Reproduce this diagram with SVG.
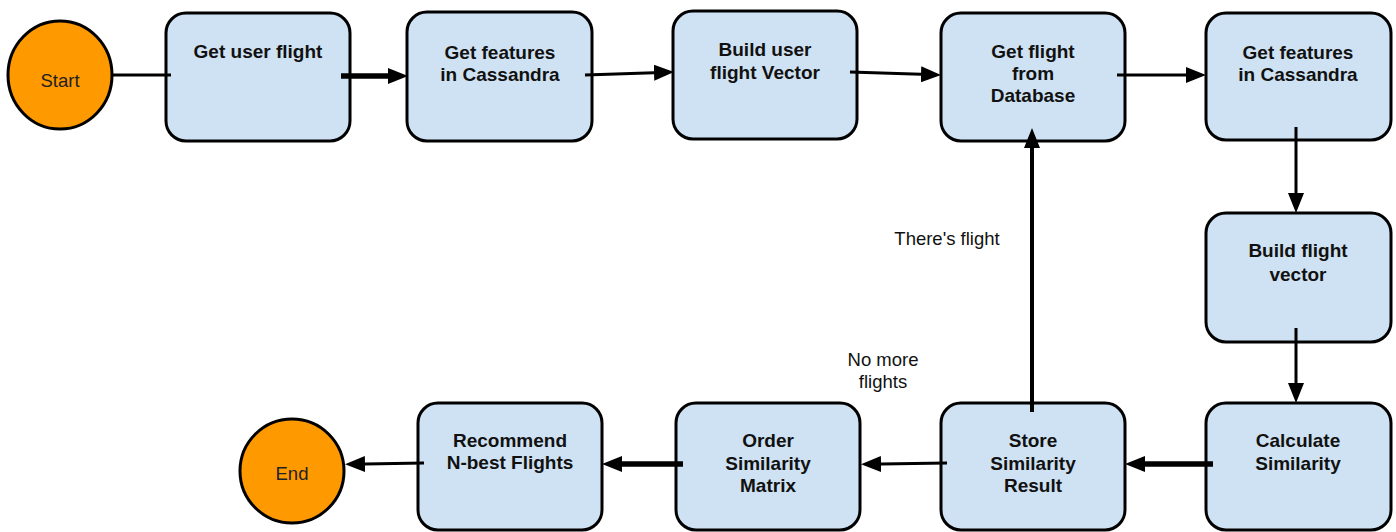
<svg xmlns="http://www.w3.org/2000/svg" width="1396" height="532" viewBox="0 0 1396 532">
  <defs>
    <marker id="arrow" markerUnits="userSpaceOnUse" markerWidth="20" markerHeight="16" refX="0" refY="8" orient="auto">
      <path d="M0,0 L20,8 L0,16 z" fill="#000"/>
    </marker>
    <style>
      .box { fill: #cfe2f3; stroke: #000; stroke-width: 3; }
      .term { fill: #ff9900; stroke: #000; stroke-width: 3; }
      .lbl { font-family: "Liberation Sans", Arial, sans-serif; font-size: 19px; font-weight: bold; fill: #111; text-anchor: middle; }
      .tlbl { font-family: "Liberation Sans", Arial, sans-serif; font-size: 18.5px; fill: #222; text-anchor: middle; }
      .note { font-family: "Liberation Sans", Arial, sans-serif; font-size: 18.5px; fill: #111; text-anchor: middle; }
      .edge { fill: none; stroke: #000; stroke-width: 3; }
      .thick { stroke-width: 5.5; }
      .arr { marker-end: url(#arrow); }
    </style>
  </defs>
  <rect width="1396" height="532" fill="#fff"/>

  <g id="start">
    <ellipse class="term" cx="60" cy="75" rx="52" ry="54"/>
    <text class="tlbl" x="60" y="87">Start</text>
  </g>

  <g id="get-user-flight">
    <rect class="box" x="166" y="13" width="184" height="128" rx="20"/>
    <text class="lbl" x="258" y="58">Get user flight</text>
  </g>

  <g id="get-features-user">
    <rect class="box" x="407" y="12" width="185" height="129" rx="20"/>
    <text class="lbl" x="500" y="59">Get features</text>
    <text class="lbl" x="500" y="81">in Cassandra</text>
  </g>

  <g id="build-user-vector">
    <rect class="box" x="673" y="11" width="184" height="128" rx="20"/>
    <text class="lbl" x="765" y="56">Build user</text>
    <text class="lbl" x="765" y="79">flight Vector</text>
  </g>

  <g id="get-flight-db">
    <rect class="box" x="941" y="13" width="184" height="128" rx="20"/>
    <text class="lbl" x="1033" y="58">Get flight</text>
    <text class="lbl" x="1033" y="80">from</text>
    <text class="lbl" x="1033" y="102">Database</text>
  </g>

  <g id="get-features-flight">
    <rect class="box" x="1206" y="13" width="185" height="127" rx="20"/>
    <text class="lbl" x="1298" y="59">Get features</text>
    <text class="lbl" x="1298" y="81">in Cassandra</text>
  </g>

  <g id="build-flight-vector">
    <rect class="box" x="1206" y="213" width="185" height="129" rx="20"/>
    <text class="lbl" x="1298" y="257">Build flight</text>
    <text class="lbl" x="1298" y="281">vector</text>
  </g>

  <g id="calculate-similarity">
    <rect class="box" x="1206" y="403" width="185" height="127" rx="20"/>
    <text class="lbl" x="1298" y="447">Calculate</text>
    <text class="lbl" x="1298" y="470">Similarity</text>
  </g>

  <g id="store-similarity">
    <rect class="box" x="941" y="403" width="184" height="127" rx="20"/>
    <text class="lbl" x="1033" y="447">Store</text>
    <text class="lbl" x="1033" y="470">Similarity</text>
    <text class="lbl" x="1033" y="492">Result</text>
  </g>

  <g id="order-similarity">
    <rect class="box" x="676" y="403" width="184" height="127" rx="20"/>
    <text class="lbl" x="768" y="447">Order</text>
    <text class="lbl" x="768" y="470">Similarity</text>
    <text class="lbl" x="768" y="492">Matrix</text>
  </g>

  <g id="recommend">
    <rect class="box" x="418" y="403" width="184" height="127" rx="20"/>
    <text class="lbl" x="510" y="447">Recommend</text>
    <text class="lbl" x="510" y="469">N-best Flights</text>
  </g>

  <g id="end">
    <circle class="term" cx="292" cy="471" r="52"/>
    <text class="tlbl" x="292" y="480">End</text>
  </g>

  <!-- connectors, drawn over the nodes so their ends show inside the boxes -->
  <g id="connectors">
    <path class="edge" d="M112,75 L171,75"/>
    <path class="edge thick arr" d="M341,76 L388,76"/>
    <path class="edge arr" d="M585,75 L654,72.7"/>
    <path class="edge arr" d="M850,72 L921,74.3"/>
    <path class="edge arr" d="M1117,75 L1186,75"/>
    <path class="edge arr" d="M1296,127 L1296,193"/>
    <path class="edge arr" d="M1296,328 L1296,383"/>
    <path class="edge thick arr" d="M1213,464 L1145,464"/>
    <path class="edge arr" d="M947,463 L881,464"/>
    <path class="edge thick arr" d="M683,464 L622,464"/>
    <path class="edge arr" d="M424,463 L365,464"/>
    <path class="edge arr" d="M1032,412 L1032,148" style="stroke-width:4"/>
    <text class="note" x="947" y="245">There's flight</text>
    <text class="note" x="883" y="366">No more</text>
    <text class="note" x="883" y="388">flights</text>
  </g>
</svg>
